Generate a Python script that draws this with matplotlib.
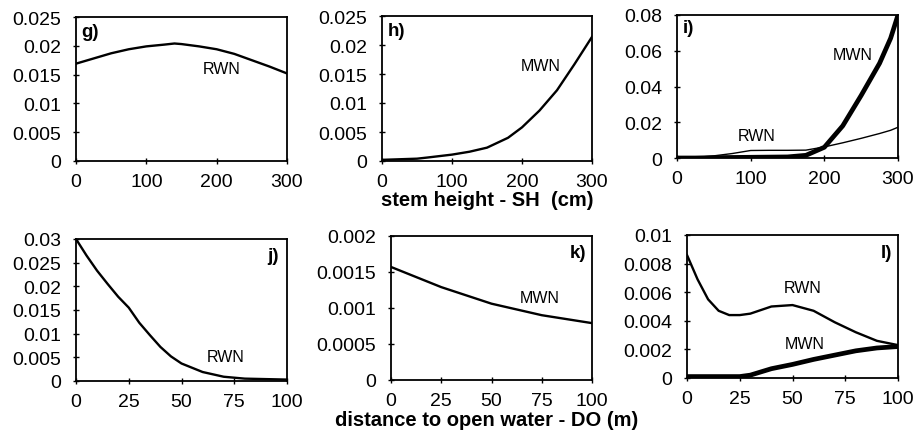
import numpy as np
import matplotlib
matplotlib.use("Agg")
import matplotlib.pyplot as plt

plt.rcParams["font.family"] = ["Liberation Sans", "DejaVu Sans"]

# --- data ----------------------------------------------------------------
# stem height (cm) panels
sh_g = [0, 25, 50, 75, 100, 125, 140, 150, 175, 200, 225, 250, 275, 300]
rwn_g = [0.0169, 0.0178, 0.0187, 0.0194, 0.0199, 0.0202, 0.0204, 0.0203,
         0.0199, 0.0194, 0.0186, 0.0175, 0.0164, 0.0152]

sh_h = [0, 25, 50, 65, 100, 125, 150, 180, 200, 225, 250, 275, 300]
mwn_h = [0.0002, 0.0003, 0.0004, 0.0006, 0.0011, 0.0016, 0.0023, 0.0040,
         0.0058, 0.0087, 0.0122, 0.0167, 0.0214]

sh_i = [0, 25, 50, 75, 100, 125, 150, 175, 200, 225, 250, 275, 290, 300]
mwn_i = [0.0, 0.0, 0.0002, 0.0003, 0.0004, 0.0005, 0.0006, 0.0015, 0.006,
         0.018, 0.035, 0.053, 0.067, 0.080]
rwn_i = [0.0, 0.0003, 0.0012, 0.0025, 0.0042, 0.0043, 0.0043, 0.0044, 0.0062,
         0.0085, 0.0110, 0.0137, 0.0155, 0.0172]

# distance to open water (m) panels
do_j = [0, 5, 10, 15, 20, 25, 30, 35, 40, 45, 50, 60, 70, 80, 90, 100]
rwn_j = [0.0300, 0.0265, 0.0233, 0.0205, 0.0178, 0.0155, 0.0123, 0.0097,
         0.0072, 0.0052, 0.0037, 0.0019, 0.0009, 0.0005, 0.0004, 0.0003]

do_k = [0, 25, 50, 75, 100]
mwn_k = [0.00157, 0.00129, 0.00106, 0.00090, 0.00079]

do_l = [0, 5, 10, 15, 20, 25, 30, 40, 50, 60, 70, 80, 90, 100]
rwn_l = [0.0086, 0.0069, 0.0055, 0.0047, 0.0044, 0.0044, 0.0045, 0.0050,
         0.0051, 0.0047, 0.0039, 0.0032, 0.0026, 0.0023]
mwn_l = [0.0001, 0.0001, 0.0001, 0.0001, 0.0001, 0.0001, 0.0002, 0.00065,
         0.00095, 0.0013, 0.0016, 0.0019, 0.0021, 0.0022]


W, H = 914, 435
fig = plt.figure(figsize=(W / 100, H / 100), dpi=100)


def add_ax(left, top, right, bottom):
    return fig.add_axes([left / W, 1 - bottom / H, (right - left) / W, (bottom - top) / H])


def style(ax, xmax, xticks, ymax, yticks, ylabels):
    ax.set_xlim(0, xmax)
    ax.set_ylim(0, ymax)
    ax.set_xticks(xticks)
    ax.set_yticks(yticks)
    ax.set_yticklabels(ylabels)
    ax.tick_params(direction="inout", length=5, width=1, labelsize=14)
    ax.tick_params(axis="y", pad=8)
    ax.tick_params(axis="x", pad=6)
    for s in ax.spines.values():
        s.set_linewidth(1.3)


ax_g = add_ax(76, 18, 287, 162)
ax_h = add_ax(382, 17, 592, 162)
ax_i = add_ax(677, 16, 898, 159)
ax_j = add_ax(76, 240, 287, 382)
ax_k = add_ax(391, 237, 592, 381)
ax_l = add_ax(687, 236, 898, 379)

sh_ticks = [0, 100, 200, 300]
do_ticks = [0, 25, 50, 75, 100]
lab = dict(fontsize=11.5, ha="center", va="center")
let = dict(fontsize=13.5, fontweight="bold", va="center")

# g)
ax_g.plot(sh_g, rwn_g, color="black", lw=1.7)
style(ax_g, 300, sh_ticks, 0.025, [0, 0.005, 0.01, 0.015, 0.02, 0.025],
      ["0", "0.005", "0.01", "0.015", "0.02", "0.025"])
ax_g.text(207, 0.016, "RWN", **lab)
ax_g.text(8, 0.0225, "g)", ha="left", **let)

# h)
ax_h.plot(sh_h, mwn_h, color="black", lw=1.7)
style(ax_h, 300, sh_ticks, 0.025, [0, 0.005, 0.01, 0.015, 0.02, 0.025],
      ["0", "0.005", "0.01", "0.015", "0.02", "0.025"])
ax_h.text(226, 0.0165, "MWN", **lab)
ax_h.text(8, 0.0225, "h)", ha="left", **let)

# i)
ax_i.plot(sh_i, rwn_i, color="black", lw=1.0)
ax_i.plot(sh_i, mwn_i, color="black", lw=3.4)
style(ax_i, 300, sh_ticks, 0.08, [0, 0.02, 0.04, 0.06, 0.08],
      ["0", "0.02", "0.04", "0.06", "0.08"])
ax_i.text(238, 0.058, "MWN", **lab)
ax_i.text(108, 0.0127, "RWN", **lab)
ax_i.text(8, 0.073, "i)", ha="left", **let)

# j)
ax_j.plot(do_j, rwn_j, color="black", lw=1.7)
style(ax_j, 100, do_ticks, 0.03, [0, 0.005, 0.01, 0.015, 0.02, 0.025, 0.03],
      ["0", "0.005", "0.01", "0.015", "0.02", "0.025", "0.03"])
ax_j.text(71, 0.0052, "RWN", **lab)
ax_j.text(96, 0.0265, "j)", ha="right", **let)

# k)
ax_k.plot(do_k, mwn_k, color="black", lw=1.7)
style(ax_k, 100, do_ticks, 0.002, [0, 0.0005, 0.001, 0.0015, 0.002],
      ["0", "0.0005", "0.001", "0.0015", "0.002"])
ax_k.text(74, 0.00115, "MWN", **lab)
ax_k.text(97, 0.00177, "k)", ha="right", **let)

# l)
ax_l.plot(do_l, rwn_l, color="black", lw=1.7)
ax_l.plot(do_l, mwn_l, color="black", lw=3.4)
style(ax_l, 100, do_ticks, 0.01, [0, 0.002, 0.004, 0.006, 0.008, 0.01],
      ["0", "0.002", "0.004", "0.006", "0.008", "0.01"])
ax_l.text(55, 0.0063, "RWN", **lab)
ax_l.text(56, 0.0024, "MWN", **lab)
ax_l.text(97, 0.0088, "l)", ha="right", **let)

fig.text(487 / W, 1 - 201 / H, "stem height - SH  (cm)", fontsize=14.5,
         fontweight="bold", ha="center", va="center")
fig.text(487 / W, 1 - 421 / H, "distance to open water - DO (m)", fontsize=14.5,
         fontweight="bold", ha="center", va="center")

fig.savefig("out.png", dpi=100)
